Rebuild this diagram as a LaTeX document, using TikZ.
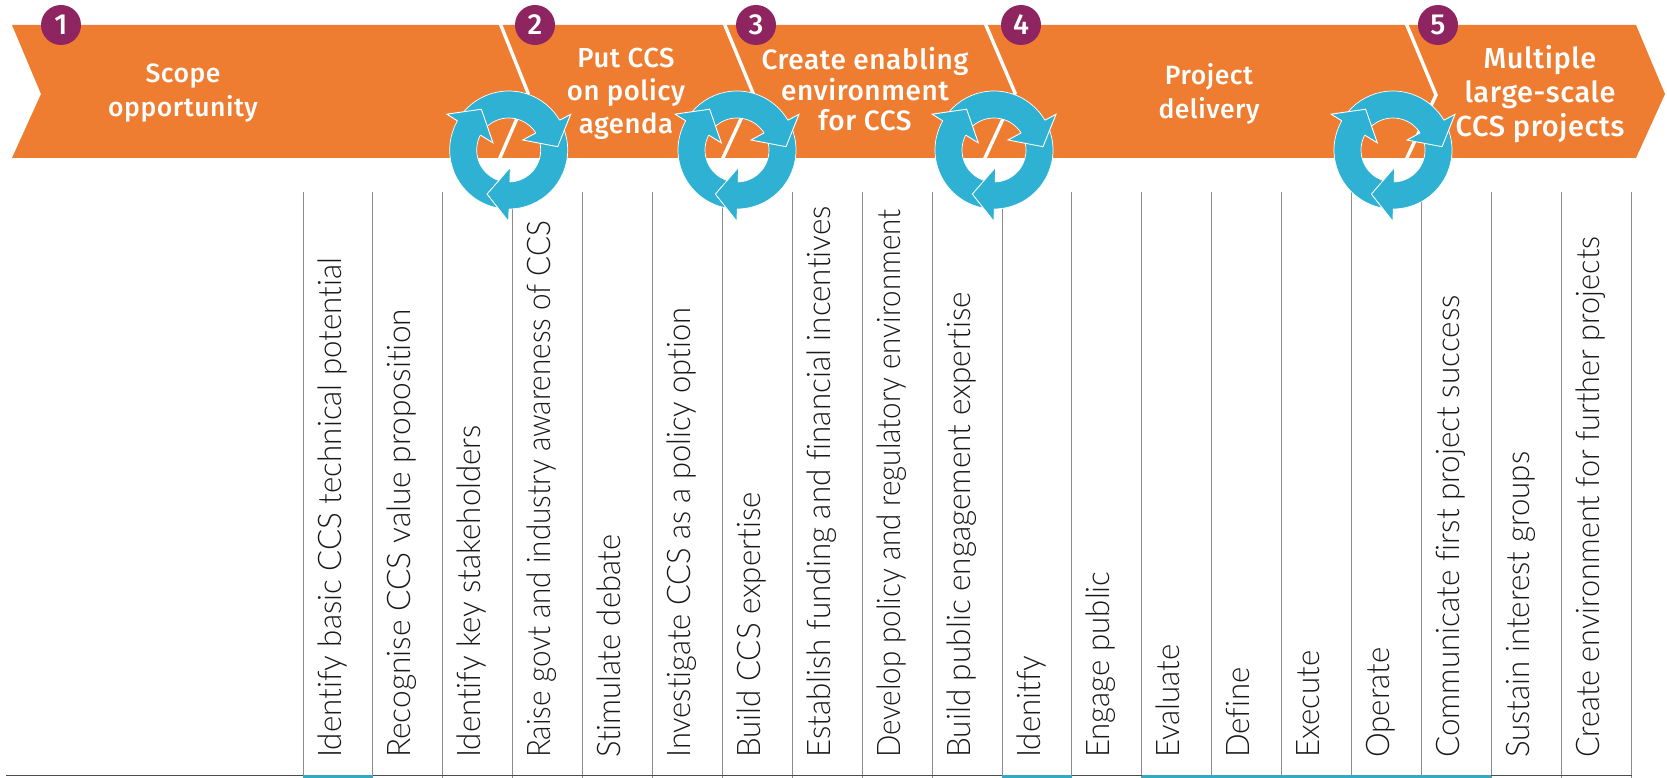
\documentclass[tikz,border=0pt]{standalone}
\usepackage{graphicx}
\usepackage{fontspec}
\setmainfont{Open Sans}
\newfontfamily\headfont[LetterSpace=2]{Fira Sans Medium}
\newfontfamily\lightfont[FakeStretch=0.96,Ligatures=NoCommon]{Lato Light}
\definecolor{bandorange}{HTML}{EE7D31}
\definecolor{ringteal}{HTML}{2FB1D3}
\definecolor{stripteal}{HTML}{35A9C2}
\definecolor{badgeplum}{HTML}{8E2560}
\definecolor{rulegrey}{HTML}{8C8C8C}
\tikzset{
  band/.style={fill=bandorange,draw=none},
  sepline/.style={draw=white,line width=3.4pt,line join=miter},
  badge/.style={circle,fill=badgeplum,minimum size=40pt,inner sep=0pt,text=white,font=\headfont\fontsize{29}{29}\selectfont},
  headtext/.style={text=white,align=center,inner sep=0pt,anchor=base,font=\headfont\fontsize{26.5}{34}\selectfont},
  headtextb/.style={headtext,font=\headfont\fontsize{27.5}{33}\selectfont},
  headtextc/.style={headtext,font=\headfont\fontsize{28}{30.5}\selectfont},
  headtextd/.style={headtext,font=\headfont\fontsize{29}{34}\selectfont},
  steptext/.style={rotate=90,anchor=base west,inner sep=0pt,text=black!90,font=\lightfont\fontsize{32.5}{32.5}\selectfont},
  colrule/.style={draw=rulegrey,line width=1pt},
  botrule/.style={draw=black!70,line width=1pt},
  strip/.style={fill=stripteal,draw=none},
  cyclering/.style={fill=ringteal,draw=white,line width=.7pt,even odd rule},
  headfill/.style={fill=ringteal,draw=none},
  headedge/.style={draw=white,line width=.9pt,line join=miter},
}
\newcommand{\cyclemark}[2]{%
  \begin{scope}[shift={(#1,#2)}]
    \path[cyclering] (0,0) circle[radius=59] (0,0) circle[radius=32];
    \foreach \ang in {0,120,240}{
      \begin{scope}[rotate=\ang]
        \path[headfill] (62,-35.7) -- (49,-3.3) -- (14,-10) -- cycle;
        \path[headedge] (50.9,-29.8) -- (62,-35.7) -- (49,-3.3) -- (14,-10) -- (27,-17);
      \end{scope}
    }
  \end{scope}}
\begin{document}
\begin{tikzpicture}[x=1pt,y=-1pt]
\useasboundingbox (0,0) rectangle (1667,778);
\path[band] (12,25) -- (1636,25) -- (1665,94) -- (1636,158) -- (12,158) -- (41,94) -- cycle;
\coordinate (s2t) at (500,23); \coordinate (s2a) at (528,93); \coordinate (s2b) at (499,160);
\coordinate (s3t) at (724,23); \coordinate (s3a) at (753,93); \coordinate (s3b) at (722,160);
\coordinate (s4t) at (985,23); \coordinate (s4a) at (1015,93); \coordinate (s4b) at (984,160);
\coordinate (s5t) at (1406,23); \coordinate (s5a) at (1436,95); \coordinate (s5b) at (1406,160);
\foreach \s in {2,3,4,5}{\draw[sepline] (s\s t) -- (s\s a) -- (s\s b);}
\foreach \k in {0,...,19}{\draw[colrule] ({303+69.9*\k},192) -- ({303+69.9*\k},778);}
\draw[botrule] (6,775) -- (1632,775);
\foreach \k in {0,10,12,13,14,15,16}{\path[strip] ({303+69.9*\k},775.4) rectangle ({303+69.9*(\k+1)},778);}
\foreach \k/\f/\t in {0/1.002/Identify basic CCS technical potential,1/1.015/Recognise CCS value proposition,2/1/Identify key stakeholders,3/.95/Raise govt and industry awareness of CCS,4/.99/Stimulate debate,5/.99/Investigate CCS as a policy option,6/1/Build CCS expertise,7/1.005/Establish funding and financial incentives,8/.945/Develop policy and regulatory environment,9/1.01/Build public engagement expertise,10/1/Idenitfy,11/1/Engage public,12/1/Evaluate,13/1/Define,14/1/Execute,15/1/Operate,16/1.006/Communicate first project success,17/1/Sustain interest groups,18/.98/Create environment for further projects}{
  \node[steptext] (lab\k) at ({341+69.9*\k},758) {\scalebox{\f}[1]{\t}};
}
\cyclemark{508.7}{150}
\cyclemark{737}{150}
\cyclemark{994}{150}
\cyclemark{1393}{150}
\node[badge] (b1) at (61,25) {1};
\node[badge] (b2) at (535,25) {2};
\node[badge] (b3) at (756,25) {3};
\node[badge] (b4) at (1021,25) {4};
\node[badge] (b5) at (1438,25) {5};
\node[headtext] (h1) at (183,117) {Scope\\opportunity};
\node[headtextb] (h2) at (626,134) {Put CCS\\on policy\\agenda};
\node[headtextc] (h3) at (865,131) {Create enabling\\environment\\for CCS};
\node[headtext] (h4) at (1209,119) {Project\\delivery};
\node[headtextd] (h5) at (1540,137) {Multiple\\large-scale\\CCS projects};
\end{tikzpicture}
\end{document}
